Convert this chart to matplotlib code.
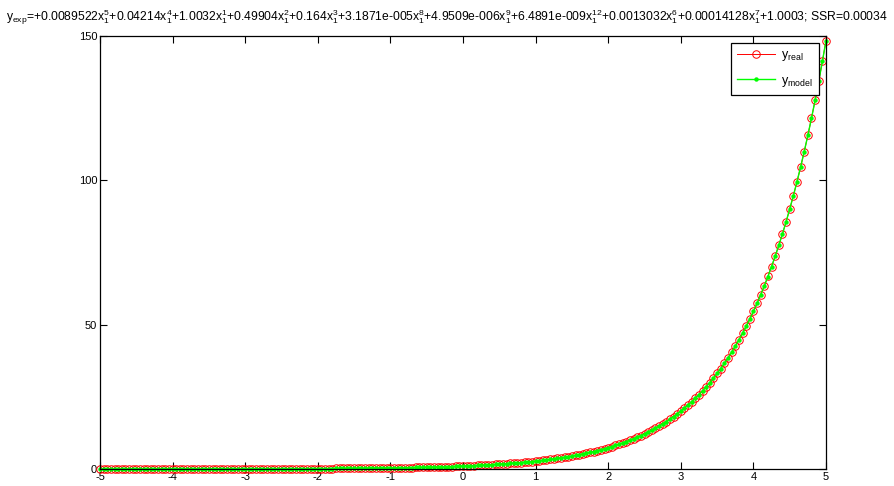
import numpy as np
import matplotlib
matplotlib.use("Agg")
import matplotlib.pyplot as plt

plt.rcParams['font.family'] = ['Liberation Sans', 'DejaVu Sans']
plt.rcParams['mathtext.fontset'] = 'custom'
plt.rcParams['mathtext.rm'] = 'Liberation Sans'
plt.rcParams['mathtext.it'] = 'Liberation Sans'
plt.rcParams['mathtext.default'] = 'regular'
plt.rcParams['axes.unicode_minus'] = False

# measured samples, x from -5 to 5 in steps of 0.05
y_real = [
    0.0067, 0.0071, 0.0074, 0.0078, 0.0082, 0.0087, 0.0091, 0.0096, 0.0101, 0.0106,
    0.0111, 0.0117, 0.0123, 0.0129, 0.0136, 0.0143, 0.0150, 0.0158, 0.0166, 0.0174,
    0.0183, 0.0193, 0.0202, 0.0213, 0.0224, 0.0235, 0.0247, 0.0260, 0.0273, 0.0287,
    0.0302, 0.0317, 0.0334, 0.0351, 0.0369, 0.0388, 0.0408, 0.0429, 0.0450, 0.0474,
    0.0498, 0.0523, 0.0550, 0.0578, 0.0608, 0.0639, 0.0672, 0.0707, 0.0743, 0.0781,
    0.0821, 0.0863, 0.0907, 0.0954, 0.1003, 0.1054, 0.1108, 0.1165, 0.1225, 0.1287,
    0.1353, 0.1423, 0.1496, 0.1572, 0.1653, 0.1738, 0.1827, 0.1921, 0.2019, 0.2122,
    0.2231, 0.2346, 0.2466, 0.2592, 0.2725, 0.2865, 0.3012, 0.3166, 0.3329, 0.3499,
    0.3679, 0.3867, 0.4066, 0.4274, 0.4493, 0.4724, 0.4966, 0.5220, 0.5488, 0.5770,
    0.6065, 0.6376, 0.6703, 0.7047, 0.7408, 0.7788, 0.8187, 0.8607, 0.9048, 0.9512,
    1.0000, 1.0513, 1.1052, 1.1618, 1.2214, 1.2840, 1.3499, 1.4191, 1.4918, 1.5683,
    1.6487, 1.7333, 1.8221, 1.9155, 2.0138, 2.1170, 2.2255, 2.3396, 2.4596, 2.5857,
    2.7183, 2.8577, 3.0042, 3.1582, 3.3201, 3.4903, 3.6693, 3.8574, 4.0552, 4.2631,
    4.4817, 4.7115, 4.9530, 5.2070, 5.4739, 5.7546, 6.0496, 6.3598, 6.6859, 7.0287,
    7.3891, 7.7679, 8.1662, 8.5849, 9.0250, 9.4877, 9.9742, 10.486, 11.023, 11.588,
    12.182, 12.807, 13.464, 14.154, 14.880, 15.643, 16.445, 17.288, 18.174, 19.106,
    20.086, 21.115, 22.198, 23.336, 24.533, 25.790, 27.113, 28.503, 29.964, 31.500,
    33.115, 34.813, 36.598, 38.475, 40.447, 42.521, 44.701, 46.993, 49.402, 51.935,
    54.598, 57.397, 60.340, 63.434, 66.686, 70.105, 73.700, 77.478, 81.451, 85.627,
    90.017, 94.632, 99.484, 104.585, 109.947, 115.584, 121.510, 127.740, 134.290, 141.175,
    148.413,
]

# fitted model terms (coefficient, power of x1) as reported by the fit
coef_labels = ["0.0089522", "0.04214", "1.0032", "0.49904", "0.164",
               "3.1871e-005", "4.9509e-006", "6.4891e-009", "0.0013032", "0.00014128"]
powers = [5, 4, 1, 2, 3, 8, 9, 12, 6, 7]
intercept_label = "1.0003"
ssr_label = "0.00034"

x = np.linspace(-5, 5, len(y_real))
y_model = float(intercept_label) + sum(float(c) * x ** p for c, p in zip(coef_labels, powers))

title = "y$_{exp}$=" + "".join("+%sx$_1^{%d}$" % (c, p) for c, p in zip(coef_labels, powers))
title += "+%s; SSR=%s" % (intercept_label, ssr_label)

fig = plt.figure(figsize=(8.94, 4.86), dpi=100)
ax = fig.add_axes([100 / 894, 17 / 486, 726 / 894, 433 / 486])

ax.plot(x, y_real, '-', color='red', lw=0.7, marker='o', ms=5.4,
        mfc='none', mec='red', mew=0.7, label='y$_{real}$', clip_on=False)
ax.plot(x, y_model, '-', color='#00ff00', lw=1.0, marker='o', ms=3.2,
        mfc='#00ff00', mec='#00ff00', mew=0, label='y$_{model}$', clip_on=False)

ax.set_xlim(-5, 5)
ax.set_ylim(0, 150)
ax.set_xticks(range(-5, 6))
ax.set_yticks([0, 50, 100, 150])
ax.tick_params(direction='in', top=True, right=True, length=5, width=0.8,
               labelsize=8, pad=2)
for s in ax.spines.values():
    s.set_linewidth(0.9)

leg = ax.legend(loc='upper right', bbox_to_anchor=(0.9904, 0.9838), fancybox=False,
                edgecolor='black', framealpha=1, fontsize=9, handlelength=3.0,
                handletextpad=0.5, borderaxespad=0, labelspacing=0.9, borderpad=0.5)
leg.get_frame().set_linewidth(0.9)

fig.text(0.5, 1 - 17 / 486, title, ha='center', va='center', fontsize=8.7)

fig.savefig('out.png', dpi=100)
